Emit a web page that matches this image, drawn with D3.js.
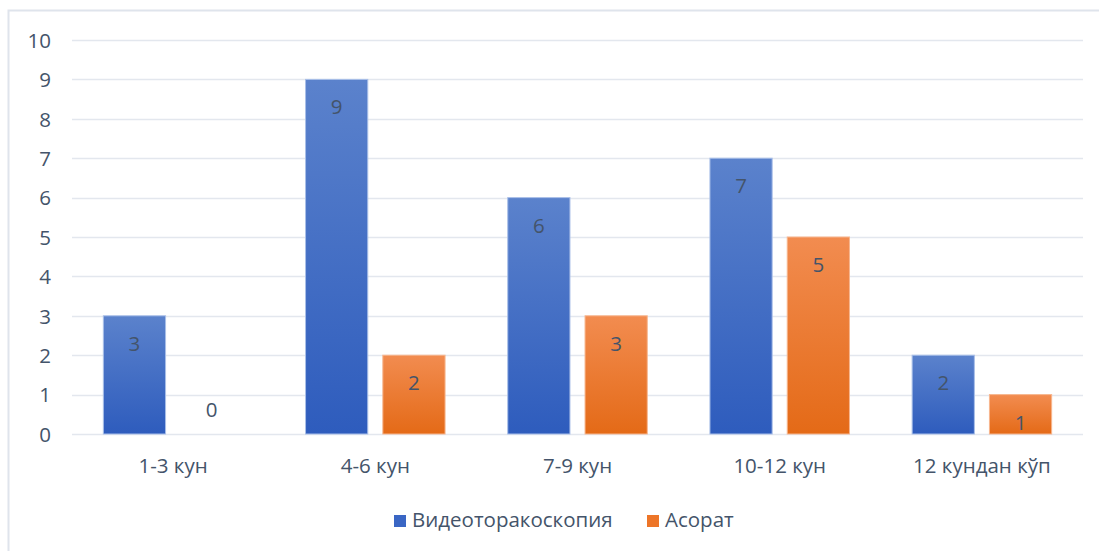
<!DOCTYPE html>
<html>
<head>
<meta charset="utf-8">
<script src="https://cdn.jsdelivr.net/npm/d3@7"></script>
<style>
  html, body { margin: 0; padding: 0; background: #fff; }
  svg text { font-family: "Open Sans", "Noto Sans", sans-serif; }
</style>
</head>
<body>
<div id="chart"></div>
<script>
// chart values
const categories = ["1-3 кун", "4-6 кун", "7-9 кун", "10-12 кун", "12 кундан кўп"];
const seriesNames = ["Видеоторакоскопия", "Асорат"];
const videoValues = [3, 9, 6, 7, 2];
const asoratValues = [0, 2, 3, 5, 1];
const yTicks = [0, 1, 2, 3, 4, 5, 6, 7, 8, 9, 10];

{
  const W = 1099, H = 551;
  const margin = { top: 40, right: 16, bottom: 117, left: 72 };
  const textColor = "#44546a";
  const fs = "20.5px";

  const svg = d3.select("#chart").append("svg")
    .attr("width", W).attr("height", H);

  // gradients for bars
  const defs = svg.append("defs");
  const grads = [
    { id: "gBlue", top: "#5b82cc", bottom: "#2e5cbd" },
    { id: "gOrange", top: "#f28c50", bottom: "#e46a17" }
  ];
  grads.forEach(g => {
    const lg = defs.append("linearGradient").attr("id", g.id)
      .attr("x1", 0).attr("y1", 0).attr("x2", 0).attr("y2", 1);
    lg.append("stop").attr("offset", "0%").attr("stop-color", g.top);
    lg.append("stop").attr("offset", "100%").attr("stop-color", g.bottom);
  });

  // chart frame
  svg.append("rect")
    .attr("x", 8.5).attr("y", 10.5)
    .attr("width", W + 20).attr("height", H + 20)
    .attr("fill", "none").attr("stroke", "#dfe4ec").attr("stroke-width", 2);

  const x0 = d3.scaleBand()
    .domain(categories)
    .range([margin.left, W - margin.right])
    .paddingInner(0.31).paddingOuter(0.155);

  const x1 = d3.scaleBand()
    .domain(seriesNames)
    .range([0, x0.bandwidth()])
    .paddingInner(0.195);

  const y = d3.scaleLinear()
    .domain([0, 10])
    .range([H - margin.bottom, margin.top]);

  // gridlines
  svg.append("g").selectAll("line")
    .data(yTicks).enter().append("line")
      .attr("x1", margin.left).attr("x2", W - margin.right)
      .attr("y1", d => Math.round(y(d)) + 0.5).attr("y2", d => Math.round(y(d)) + 0.5)
      .attr("stroke", "#e3e7ee").attr("stroke-width", 1.5);

  // y axis labels
  const yAxis = d3.axisLeft(y).tickValues(yTicks).tickSize(0).tickPadding(0);
  const yg = svg.append("g").attr("transform", `translate(${margin.left - 21},0)`).call(yAxis);
  yg.select(".domain").remove();
  yg.selectAll("text").attr("fill", textColor).attr("dy", "0.36em").style("font-size", fs);

  // x axis labels
  const xAxis = d3.axisBottom(x0).tickSize(0).tickPadding(0);
  const xg = svg.append("g").attr("transform", `translate(0,${H - margin.bottom + 39})`).call(xAxis);
  xg.select(".domain").remove();
  xg.selectAll("text").attr("fill", textColor).attr("dy", 0).attr("y", 0).style("font-size", fs);

  const rows = categories.map((c, i) => ({
    cat: c,
    bars: [
      { name: seriesNames[0], value: videoValues[i], fill: "url(#gBlue)", stroke: "#a9bfe8" },
      { name: seriesNames[1], value: asoratValues[i], fill: "url(#gOrange)", stroke: "#f7b68e" }
    ]
  }));

  const groups = svg.append("g").selectAll("g.group")
    .data(rows).enter().append("g")
      .classed("group", true)
      .attr("transform", d => `translate(${x0(d.cat)},0)`);

  groups.selectAll("rect")
    .data(d => d.bars.filter(b => b.value > 0))
    .enter().append("rect")
      .attr("x", d => x1(d.name))
      .attr("y", d => y(d.value))
      .attr("width", x1.bandwidth())
      .attr("height", d => y(0) - y(d.value))
      .attr("fill", d => d.fill)
      .attr("stroke", d => d.stroke)
      .attr("stroke-width", 1);

  // data labels, inside end
  groups.selectAll("text.lbl")
    .data(d => d.bars)
    .enter().append("text")
      .classed("lbl", true)
      .attr("x", d => x1(d.name) + x1.bandwidth() / 2)
      .attr("y", d => d.value > 0 ? y(d.value) + 35 : y(0) - 17)
      .attr("text-anchor", "middle")
      .attr("fill", textColor)
      .style("font-size", fs)
      .text(d => d.value);

  // legend
  const legend = svg.append("g").attr("transform", "translate(394,527)");
  const legendItems = [
    { name: seriesNames[0], color: "#3a66c4", x: 0 },
    { name: seriesNames[1], color: "#ed7528", x: 253 }
  ];
  const li = legend.selectAll("g").data(legendItems).enter().append("g")
    .attr("transform", d => `translate(${d.x},0)`);
  li.append("rect").attr("x", 0).attr("y", -12).attr("width", 12).attr("height", 12)
    .attr("fill", d => d.color);
  li.append("text").attr("x", 18).attr("y", 0)
    .attr("fill", textColor).style("font-size", fs)
    .text(d => d.name);
}
</script>
</body>
</html>
